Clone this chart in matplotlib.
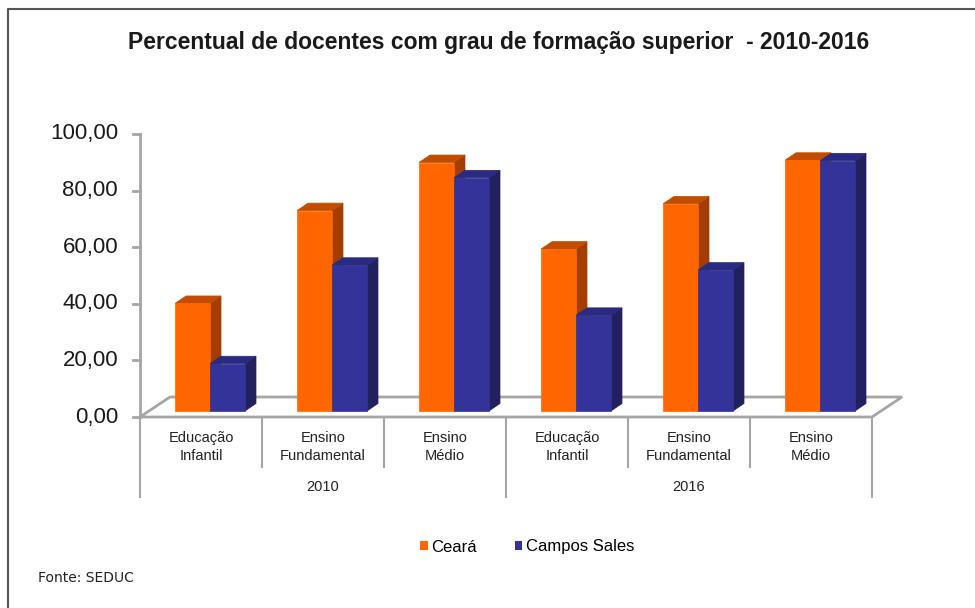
import matplotlib.pyplot as plt
from matplotlib.patches import Polygon, Patch
from matplotlib.lines import Line2D

plt.rcParams["font.family"] = ["Liberation Sans", "DejaVu Sans"]

# data
anos = ["2010", "2016"]
niveis = ["Educação\nInfantil", "Ensino\nFundamental", "Ensino\nMédio"]
ceara = [38.0, 70.8, 87.8, 57.2, 73.2, 88.6]
campos_sales = [16.7, 51.5, 82.4, 33.8, 49.8, 88.4]
yticks = [0, 20, 40, 60, 80, 100]
ytick_labels = ["0,00", "20,00", "40,00", "60,00", "80,00", "100,00"]

W, H = 975, 608


def fx(px):
    return px / W


def fy(py):
    return 1 - py / H


fig = plt.figure(figsize=(W / 100, H / 100), dpi=100)

# plot area (front plane of the 3D box)
ax = fig.add_axes([fx(140), fy(417), fx(872) - fx(140), fy(134) - fy(417)])
ncat = len(ceara)
ax.set_xlim(0, ncat)
ax.set_ylim(0, 100)
ax.axis("off")

cat_px = (872 - 140) / ncat
unit_px = (417 - 134) / 100
floor_dx = 30 / cat_px
floor_dy = 20 / unit_px
front_dx = 0.3 * floor_dx
front_dy = 0.3 * floor_dy
side_dx = 11 / cat_px
side_dy = 7.5 / unit_px
bw = 35 / cat_px

grey = "#A6A6A6"

# floor
floor = Polygon([(0, 0), (ncat, 0), (ncat + floor_dx, floor_dy), (floor_dx, floor_dy)],
                closed=True, facecolor="white", edgecolor=grey, lw=2, clip_on=False, zorder=1)
ax.add_patch(floor)

# value axis
ax.add_line(Line2D([0, 0], [0, 100], color=grey, lw=2, clip_on=False, zorder=2))
for t, lab in zip(yticks, ytick_labels):
    ax.add_line(Line2D([-7 / cat_px, 0], [t, t], color=grey, lw=2, clip_on=False, zorder=2))
    ax.text(-22 / cat_px, t, lab, ha="right", va="center", fontsize=16, color="#1a1a1a")


def bar3d(x, h, front, top, side):
    x0 = x + front_dx
    y0 = front_dy
    y1 = h + front_dy
    faces = [
        ([(x0 + bw, y0), (x0 + bw + side_dx, y0 + side_dy),
          (x0 + bw + side_dx, y1 + side_dy), (x0 + bw, y1)], side),
        ([(x0, y1), (x0 + bw, y1), (x0 + bw + side_dx, y1 + side_dy),
          (x0 + side_dx, y1 + side_dy)], top),
        ([(x0, y0), (x0 + bw, y0), (x0 + bw, y1), (x0, y1)], front),
    ]
    for pts, c in faces:
        ax.add_patch(Polygon(pts, closed=True, facecolor=c, edgecolor=c, lw=0.5,
                             clip_on=False, zorder=3))


for i in range(ncat):
    bar3d(i + 0.5 - bw, ceara[i], "#FF6600", "#C24D00", "#A33E00")
    bar3d(i + 0.5, campos_sales[i], "#333399", "#2A2A80", "#232060")

# category axis with grouped labels
for k in range(ncat + 1):
    depth = 80 if k % 3 == 0 else 50
    ax.add_line(Line2D([k, k], [0, -depth / unit_px], color=grey, lw=1.5, clip_on=False))
for i in range(ncat):
    ax.text(i + 0.5, -30 / unit_px, niveis[i % 3], ha="center", va="center",
            fontsize=10.5, color="#222222", linespacing=1.4)
for j, ano in enumerate(anos):
    ax.text(3 * j + 1.5, -70 / unit_px, ano, ha="center", va="center",
            fontsize=10.5, color="#222222")

# title
fig.text(fx(499), fy(42), "Percentual de docentes com grau de formação superior  - 2010-2016",
         ha="center", va="center", fontsize=16.5, fontweight="bold", color="#1a1a1a")

# legend
handles = [Patch(facecolor="#FF6600", edgecolor="none", label="Ceará"),
           Patch(facecolor="#333399", edgecolor="none", label="Campos Sales")]
fig.legend(handles=handles, loc="center", bbox_to_anchor=(fx(527), fy(547)), ncol=2,
           frameon=False, fontsize=12, handlelength=0.45, handleheight=0.45,
           handletextpad=0.2, columnspacing=2.3)

# source
fig.text(fx(38), fy(578), "Fonte: SEDUC", ha="left", va="center", fontsize=10,
         family="DejaVu Sans", color="#222222")

# outer border (left and top)
fig.add_artist(Line2D([fx(8), fx(8), 1], [0, fy(9), fy(9)], color="#555555", lw=1.5))

fig.savefig("out.png", dpi=100)
